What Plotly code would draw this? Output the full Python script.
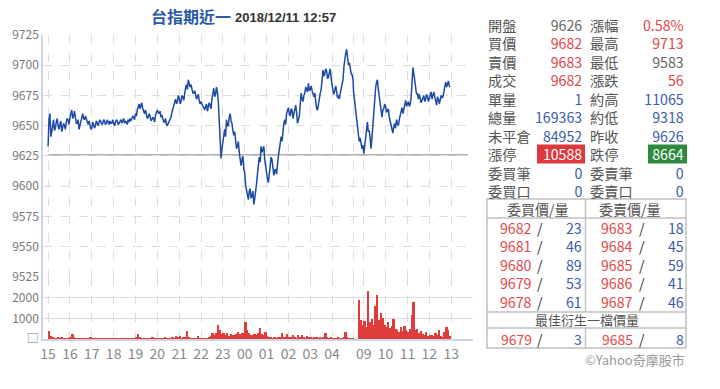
import plotly.graph_objects as go
from plotly.subplots import make_subplots
import pandas as pd

# ---------------- data ----------------
# night session prices at 15:00, 15:05 ... 04:55
night_prices = [
    9633, 9660, 9645, 9655, 9648, 9656, 9647, 9654, 9648, 9650, 9653, 9655,
    9657, 9663, 9658, 9656, 9652, 9647, 9655, 9660, 9655, 9655, 9651, 9650,
    9648, 9651, 9650, 9652, 9653, 9653, 9652, 9654, 9652, 9653, 9654, 9652,
    9652, 9653, 9654, 9652, 9655, 9654, 9652, 9653, 9655, 9656, 9656, 9657,
    9660, 9663, 9668, 9666, 9664, 9660, 9659, 9657, 9658, 9655, 9656, 9659,
    9663, 9660, 9657, 9655, 9653, 9651, 9652, 9655, 9661, 9667, 9672, 9670,
    9673, 9670, 9674, 9678, 9684, 9688, 9682, 9680, 9677, 9676, 9674, 9671,
    9670, 9666, 9663, 9668, 9665, 9667, 9672, 9681, 9676, 9678, 9650, 9623,
    9638, 9647, 9655, 9650, 9660, 9652, 9642, 9636, 9633, 9628, 9617, 9625,
    9611, 9597, 9589, 9598, 9592, 9585, 9595, 9610, 9624, 9633, 9630, 9622,
    9611, 9603, 9618, 9622, 9609, 9614, 9620, 9630, 9641, 9647, 9655, 9660,
    9665, 9658, 9663, 9660, 9667, 9652, 9658, 9677, 9670, 9677, 9680, 9685,
    9680, 9679, 9674, 9668, 9663, 9674, 9680, 9696, 9693, 9695, 9690, 9697,
    9682, 9676, 9683, 9673, 9672, 9681, 9688, 9706, 9713, 9700, 9696, 9692,
]
# night session prices at 15:02:30, 15:07:30 ... 04:57:30
night_mid_prices = [
    9656, 9641, 9652, 9646, 9653, 9650, 9651, 9645, 9652, 9647, 9656, 9651,
    9661, 9656, 9662, 9652, 9655, 9651, 9658, 9656, 9658, 9652, 9654, 9647,
    9653, 9648, 9654, 9650, 9655, 9651, 9655, 9651, 9655, 9651, 9652, 9655,
    9650, 9655, 9651, 9654, 9652, 9656, 9654, 9651, 9653, 9654, 9658, 9655,
    9658, 9665, 9664, 9669, 9661, 9663, 9656, 9660, 9654, 9657, 9653, 9661,
    9661, 9662, 9659, 9653, 9656, 9650, 9654, 9657, 9664, 9669, 9668, 9675,
    9668, 9675, 9671, 9681, 9680, 9685, 9684, 9677, 9679, 9672, 9676, 9668,
    9667, 9665, 9666, 9662, 9669, 9664, 9676, 9674, 9682, 9670, 9636, 9631,
    9644, 9641, 9650, 9657, 9654, 9646, 9645, 9631, 9637, 9620, 9622, 9614,
    9601, 9594, 9596, 9590, 9596, 9590, 9602, 9615, 9620, 9628, 9633, 9616,
    9606, 9612, 9624, 9612, 9613, 9610, 9625, 9634, 9637, 9652, 9651, 9663,
    9660, 9664, 9656, 9664, 9661, 9655, 9668, 9672, 9675, 9682, 9678, 9679,
    9683, 9676, 9677, 9664, 9669, 9677, 9690, 9691, 9697, 9689, 9694, 9689,
    9679, 9680, 9678, 9675, 9677, 9684, 9699, 9710, 9705, 9702, 9693, 9688,
]
night_close = 9678  # 04:59
# day session prices at 08:45, 08:50 ... 12:55
day_prices = [
    9644, 9640, 9631, 9627, 9642, 9653, 9646, 9631, 9652, 9672, 9686, 9680,
    9670, 9657, 9664, 9666, 9662, 9657, 9651, 9644, 9652, 9655, 9650, 9659,
    9665, 9664, 9671, 9668, 9666, 9673, 9698, 9688, 9676, 9672, 9673, 9671,
    9675, 9672, 9674, 9673, 9678, 9676, 9674, 9667, 9672, 9671, 9673, 9678,
    9686, 9685, 9683,
]
# day session prices at 08:47:30 ... 12:52:30
day_mid_prices = [
    9637, 9636, 9634, 9633, 9650, 9645, 9640, 9640, 9660, 9681, 9688, 9673,
    9662, 9663, 9668, 9661, 9664, 9653, 9647, 9649, 9648, 9652, 9655, 9662,
    9660, 9668, 9666, 9670, 9668, 9683, 9693, 9681, 9677, 9676, 9669, 9674,
    9670, 9676, 9670, 9676, 9672, 9678, 9670, 9674, 9668, 9675, 9674, 9682,
    9682, 9687,
]
last_price = 9682  # 12:57

night_volume = [
    390, 140, 100, 60, 40, 90, 30, 120, 40, 30, 20, 60,
    80, 240, 100, 60, 70, 50, 60, 40, 50, 30, 20, 90,
    20, 30, 10, 20, 10, 10, 20, 10, 10, 20, 10, 10,
    10, 10, 10, 10, 10, 10, 10, 10, 10, 10, 10, 20,
    80, 220, 100, 50, 30, 20, 40, 20, 30, 80, 30, 40,
    70, 30, 50, 40, 80, 30, 40, 60, 120, 60, 130, 80,
    150, 60, 100, 80, 390, 100, 60, 40, 50, 60, 150, 40,
    70, 60, 50, 60, 120, 160, 270, 180, 300, 680, 430, 240,
    300, 200, 280, 160, 240, 180, 200, 260, 350, 250, 300, 280,
    810, 430, 280, 200, 190, 240, 180, 300, 520, 260, 200, 350,
    160, 100, 80, 70, 90, 60, 80, 120, 300, 120, 100, 250,
    100, 80, 190, 90, 60, 190, 80, 190, 120, 60, 150, 80,
    100, 60, 80, 90, 50, 120, 60, 100, 300, 100, 60, 80,
    50, 60, 40, 80, 60, 50, 80, 350, 120, 60, 50, 60,
]
day_volume = [
    1890, 900, 700, 850, 600, 2300, 800, 950, 700, 1600, 2150, 900,
    1250, 1000, 700, 600, 800, 550, 650, 950, 500, 450, 350, 600,
    400, 650, 450, 350, 500, 1150, 1780, 450, 500, 300, 400, 250,
    200, 350, 150, 200, 180, 150, 300, 200, 450, 150, 120, 350,
    600, 450, 150,
]
hour_labels = ["15", "16", "17", "18", "19", "20", "21", "22", "23",
               "00", "01", "02", "03", "04", "09", "10", "11", "12", "13"]
price_ticks = [9525, 9550, 9575, 9600, 9625, 9650, 9675, 9700, 9725]
volume_ticks = [0, 1000, 2000]
volume_ticktext = ["□", "1000", "2000"]

title_name = "台指期近一"
title_time = "2018/12/11 12:57"
prev_close = 9626

left_labels = ["開盤", "買價", "賣價", "成交", "單量", "總量", "未平倉", "漲停", "委買筆", "委買口"]
left_values = ["9626", "9682", "9683", "9682", "1", "169363", "84952", "10588", "0", "0"]
right_labels = ["漲幅", "最高", "最低", "漲跌", "約高", "約低", "昨收", "跌停", "委賣筆", "委賣口"]
right_values = ["0.58%", "9713", "9583", "56", "11065", "9318", "9626", "8664", "0", "0"]

bid_prices = ["9682", "9681", "9680", "9679", "9678"]
bid_qty = ["23", "46", "89", "53", "61"]
ask_prices = ["9683", "9684", "9685", "9686", "9687"]
ask_qty = ["18", "45", "59", "41", "46"]
best_bid = ("9679", "3")
best_ask = ("9685", "8")

# ---------------- styles ----------------
FONT = "Noto Sans CJK TC"
RED = "#e4474b"
BLUE = "#3a5cb0"
GRAY = "#666666"
LABEL = "#555555"
LINE_BLUE = "#1d4aa6"
BAR_RED = "#e03c3c"
TS = 14.2  # table font size -> 1.3 line spacing = 18.5 px rows

left_colors = [GRAY, RED, RED, RED, BLUE, BLUE, BLUE, "white", BLUE, BLUE]
right_colors = [RED, RED, GRAY, RED, BLUE, BLUE, BLUE, "white", BLUE, BLUE]

# ---------------- series assembly ----------------
t_night = pd.date_range("2018-12-10 15:00", periods=len(night_prices), freq="5min")
t_night_mid = pd.date_range("2018-12-10 15:02:30", periods=len(night_mid_prices), freq="5min")
t_day = pd.date_range("2018-12-11 08:45", periods=len(day_prices), freq="5min")
t_day_mid = pd.date_range("2018-12-11 08:47:30", periods=len(day_mid_prices), freq="5min")
series = pd.concat([
    pd.Series(night_prices, index=t_night),
    pd.Series(night_mid_prices, index=t_night_mid),
    pd.Series([night_close], index=[pd.Timestamp("2018-12-11 04:59")]),
    pd.Series(day_prices, index=t_day),
    pd.Series(day_mid_prices, index=t_day_mid),
    pd.Series([last_price], index=[pd.Timestamp("2018-12-11 12:57")]),
]).sort_index()

vol_times = list(pd.date_range("2018-12-10 15:00", periods=len(night_volume), freq="5min")) + \
    list(pd.date_range("2018-12-11 08:45", periods=len(day_volume), freq="5min"))
volumes = night_volume + day_volume

tick_times = list(pd.date_range("2018-12-10 15:00", periods=14, freq="h")) + \
    [pd.Timestamp("2018-12-11 04:59:59")] + \
    list(pd.date_range("2018-12-11 09:00", periods=5, freq="h")) + \
    [pd.Timestamp("2018-12-11 13:59:59")]
tick_text = hour_labels[:14] + [""] + hour_labels[14:] + [""]

fig = make_subplots(rows=2, cols=1, shared_xaxes=True, vertical_spacing=0,
                    row_heights=[0.796, 0.204])

fig.add_trace(go.Scatter(x=series.index, y=series.values, mode="lines",
                         line=dict(color=LINE_BLUE, width=1.5), showlegend=False),
              row=1, col=1)
fig.add_trace(go.Bar(x=vol_times, y=volumes, marker=dict(color=BAR_RED, line=dict(width=0)),
                     width=300000, offset=0, showlegend=False),
              row=2, col=1)

L, R, T, B = 43, 247, 35, 50
W, H = 720 - L - R, 389 - T - B


def px(x):
    return (x - L) / W


def py(y):
    return (389 - B - y) / H


fig.update_layout(
    width=720, height=389, template="none",
    margin=dict(l=L, r=R, t=T, b=B, autoexpand=False),
    paper_bgcolor="white", plot_bgcolor="white",
    bargap=0, font=dict(family=FONT),
)
fig.update_xaxes(
    range=["2018-12-10 14:46", "2018-12-11 14:00"],
    rangebreaks=[dict(bounds=[5, 8.55], pattern="hour")],
    tickmode="array", tickvals=tick_times, ticktext=tick_text,
    showgrid=True, gridcolor="#dddddd", griddash="dash", gridwidth=1,
    zeroline=False, automargin=False,
    ticks="outside", ticklen=1, tickcolor="rgba(0,0,0,0)",
    tickfont=dict(size=14, color="#888888", family=FONT),
)
fig.update_xaxes(showline=False, showticklabels=False, row=1, col=1)
fig.update_xaxes(showline=True, linecolor="#c9d6ea", linewidth=1.5, row=2, col=1)

fig.update_yaxes(
    range=[9525, 9725], tickmode="array", tickvals=price_ticks,
    showgrid=True, gridcolor="#dddddd", griddash="dash", gridwidth=1,
    zeroline=False, showline=True, linecolor="#c9d6ea", linewidth=1.5,
    ticks="", automargin=False,
    tickfont=dict(size=12, color="#777777", family=FONT),
    row=1, col=1,
)
fig.update_yaxes(
    range=[0, 3000], tickmode="array", tickvals=volume_ticks, ticktext=volume_ticktext,
    showgrid=True, gridcolor="#dddddd", gridwidth=1,
    zeroline=False, showline=True, linecolor="#c9d6ea", linewidth=1.5,
    ticks="", automargin=False,
    tickfont=dict(size=12, color="#777777", family=FONT),
    row=2, col=1,
)

shapes = []
# previous close reference line
shapes.append(dict(type="line", xref="x", yref="y", x0=t_night[0],
                   x1=pd.Timestamp("2018-12-11 13:45"), y0=prev_close, y1=prev_close,
                   line=dict(color="#b0b0b0", width=1.8), layer="below"))
# limit-up / limit-down boxes
shapes.append(dict(type="rect", xref="paper", yref="paper", x0=px(537), x1=px(585),
                   y0=py(163.5), y1=py(144.5), fillcolor="#e0393d", line=dict(width=0)))
shapes.append(dict(type="rect", xref="paper", yref="paper", x0=px(648), x1=px(687),
                   y0=py(163.5), y1=py(144.5), fillcolor="#2e8a3e", line=dict(width=0)))
# order book box
bc = "#c0c0c0"
shapes.append(dict(type="rect", xref="paper", yref="paper", x0=px(487), x1=px(686),
                   y0=py(348), y1=py(199), line=dict(color=bc, width=1.5)))
for yy in (218, 312, 328):
    shapes.append(dict(type="line", xref="paper", yref="paper", x0=px(487), x1=px(686),
                       y0=py(yy), y1=py(yy), line=dict(color=bc, width=1.5)))
shapes.append(dict(type="line", xref="paper", yref="paper", x0=px(585.5), x1=px(585.5),
                   y0=py(199), y1=py(312), line=dict(color=bc, width=1.5)))
shapes.append(dict(type="line", xref="paper", yref="paper", x0=px(585.5), x1=px(585.5),
                   y0=py(328), y1=py(348), line=dict(color=bc, width=1.5)))

ann = []


def text(x, y, s, color, anchor="left", size=TS, family=FONT):
    ann.append(dict(xref="paper", yref="paper", x=px(x), y=py(y), text=s,
                    showarrow=False, xanchor=anchor, yanchor="middle", borderpad=0,
                    align=anchor if anchor != "center" else "center",
                    font=dict(size=size, color=color, family=family)))


def column(x, y_first, y_last, items, colors, anchor):
    lines = ["<span style='color:%s'>%s</span>" % (c, s) for s, c in zip(items, colors)]
    text(x, (y_first + y_last) / 2, "<br>".join(lines), LABEL, anchor=anchor)


# title
text(150, 16, "<b>" + title_name + "</b>", "#2b5aa6", size=16)
text(234, 17, "<b>" + title_time + "</b>", "#333333", size=13, family="Liberation Sans")

# quote table (each column drawn as one multi-line block)
n = len(left_labels)
y0, y1 = 25, 25 + 18.5 * (n - 1)
column(487, y0, y1, left_labels, [LABEL] * n, "left")
column(583, y0, y1, left_values, left_colors, "right")
column(589, y0, y1, right_labels, [LABEL] * n, "left")
column(685, y0, y1, right_values, right_colors, "right")

# order book
text(538, 208.5, "委買價/量", LABEL, anchor="center", size=14)
text(630, 208.5, "委賣價/量", LABEL, anchor="center", size=14)
m = len(bid_prices)
r0, r1 = 228, 228 + 18.5 * (m - 1)
column(533, r0, r1, bid_prices, [RED] * m, "right")
column(540, r0, r1, ["/"] * m, ["#333333"] * m, "center")
column(583, r0, r1, bid_qty, [BLUE] * m, "right")
column(634, r0, r1, ask_prices, [RED] * m, "right")
column(642, r0, r1, ["/"] * m, ["#333333"] * m, "center")
column(685, r0, r1, ask_qty, [BLUE] * m, "right")
text(586.5, 319.5, "最佳衍生一檔價量", LABEL, anchor="center", size=13)
text(533, 339.3, best_bid[0], RED, anchor="right", size=14)
text(540, 339.3, "/", "#333333", anchor="center", size=14)
text(583, 339.3, best_bid[1], BLUE, anchor="right", size=14)
text(634, 339.3, best_ask[0], RED, anchor="right", size=14)
text(642, 339.3, "/", "#333333", anchor="center", size=14)
text(685, 339.3, best_ask[1], BLUE, anchor="right", size=14)
text(686, 359.3, "©Yahoo奇摩股市", "#999999", anchor="right", size=13)

fig.update_layout(shapes=shapes, annotations=ann)
fig.write_html("out.html", config={"displayModeBar": False},
               post_script="document.body.style.margin='0px';")
